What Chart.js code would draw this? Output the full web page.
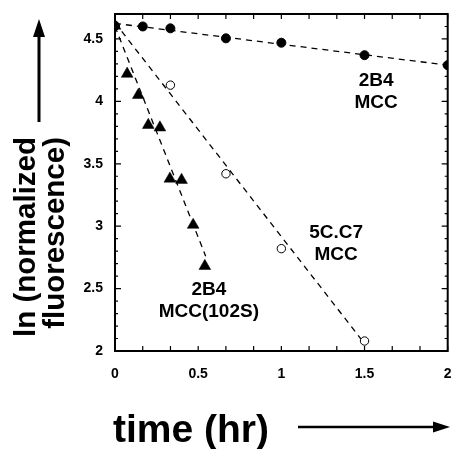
<!DOCTYPE html>
<html>
<head>
<meta charset="utf-8">
<script src="https://cdn.jsdelivr.net/npm/chart.js@4.4.1/dist/chart.umd.min.js"></script>
<style>
  html, body { margin: 0; padding: 0; background: #fff; }
  #wrap { width: 455px; height: 449px; }
</style>
</head>
<body>
<div id="wrap"><canvas id="chart" width="455" height="449"></canvas></div>
<script>
// filled circles, 2B4 MCC
const mccTimes = [0, 0.167, 0.333, 0.667, 1, 1.5, 2];
const mccValues = [4.605, 4.6, 4.585, 4.505, 4.47, 4.37, 4.29];

// open circles, 5C.C7 MCC
const c7Times = [0, 0.333, 0.667, 1, 1.5];
const c7Values = [4.605, 4.13, 3.42, 2.82, 2.08];

// triangles, 2B4 MCC(102S)
const s102Times = [0, 0.073, 0.14, 0.2, 0.27, 0.33, 0.4, 0.47, 0.54];
const s102Values = [4.605, 4.22, 4.05, 3.81, 3.79, 3.38, 3.37, 3.01, 2.68];

// dashed fit lines (start, end)
const mccFitTimes = [0, 2];
const mccFitValues = [4.625, 4.29];
const c7FitTimes = [0, 1.5];
const c7FitValues = [4.63, 2.06];
const s102FitTimes = [0, 0.545];
const s102FitValues = [4.6, 2.76];

const xTicks = [0, 0.5, 1, 1.5, 2];
const yTicks = [2, 2.5, 3, 3.5, 4, 4.5];

const curveLabels = [
  { text: ['2B4', 'MCC'], at: [1.57, 4.073] },
  { text: ['5C.C7', 'MCC'], at: [1.329, 2.857] },
  { text: ['2B4', 'MCC(102S)'], at: [0.564, 2.40] }
];

const FONT = '"Liberation Sans", Arial, Helvetica, sans-serif';

const pts = (xs, ys) => xs.map((x, i) => ({ x, y: ys[i] }));

const fitLine = (xs, ys) => ({
  type: 'line',
  data: pts(xs, ys),
  showLine: true,
  pointRadius: 0,
  borderColor: '#000',
  borderWidth: 1.3,
  borderDash: [6, 5],
  fill: false
});

const framePlugin = {
  id: 'frame',
  afterDraw(chart) {
    const { ctx, chartArea: a, scales: { x, y } } = chart;
    ctx.save();
    ctx.strokeStyle = '#000';
    ctx.fillStyle = '#000';

    // box
    ctx.lineWidth = 2;
    ctx.strokeRect(a.left, a.top, a.right - a.left, a.bottom - a.top);

    // inward ticks, every 10 min on x, every 0.1 on y
    ctx.lineWidth = 1.2;
    ctx.beginPath();
    for (let k = 0; k <= 12; k++) {
      const px = x.getPixelForValue(k / 6);
      ctx.moveTo(px, a.bottom); ctx.lineTo(px, a.bottom - 5);
      ctx.moveTo(px, a.top); ctx.lineTo(px, a.top + 5);
    }
    for (let k = 20; k <= 47; k++) {
      const py = y.getPixelForValue(k / 10);
      const len = k % 5 === 0 ? 6 : 3;
      ctx.moveTo(a.left, py); ctx.lineTo(a.left + len, py);
      ctx.moveTo(a.right, py); ctx.lineTo(a.right - len, py);
    }
    ctx.stroke();

    // curve labels
    ctx.font = 'bold 19px ' + FONT;
    ctx.textAlign = 'center';
    ctx.textBaseline = 'middle';
    curveLabels.forEach(l => {
      const cx = x.getPixelForValue(l.at[0]);
      const cy = y.getPixelForValue(l.at[1]);
      const n = l.text.length;
      l.text.forEach((t, i) => {
        ctx.fillText(t, cx, cy + (i - (n - 1) / 2) * 22);
      });
    });

    // x title + arrow
    ctx.textAlign = 'left';
    ctx.textBaseline = 'alphabetic';
    ctx.font = 'bold 39px ' + FONT;
    ctx.fillText('time (hr)', 113, 442);
    ctx.lineWidth = 2.5;
    ctx.beginPath();
    ctx.moveTo(298, 427); ctx.lineTo(436, 427);
    ctx.stroke();
    ctx.beginPath();
    ctx.moveTo(450, 427); ctx.lineTo(433, 421.5); ctx.lineTo(433, 432.5);
    ctx.closePath(); ctx.fill();

    // y title + arrow
    ctx.save();
    ctx.font = 'bold 29.5px ' + FONT;
    ctx.textAlign = 'right';
    ctx.translate(35, 137);
    ctx.rotate(-Math.PI / 2);
    ctx.fillText('ln (normalized', 0, 0);
    ctx.fillText('fluorescence)', 0, 29);
    ctx.restore();
    ctx.lineWidth = 3;
    ctx.beginPath();
    ctx.moveTo(39, 122); ctx.lineTo(39, 34);
    ctx.stroke();
    ctx.beginPath();
    ctx.moveTo(39, 19); ctx.lineTo(33, 37); ctx.lineTo(45, 37);
    ctx.closePath(); ctx.fill();

    ctx.restore();
  }
};

const tickFont = { family: FONT, size: 14, weight: 'bold' };

new Chart(document.getElementById('chart'), {
  type: 'scatter',
  data: {
    datasets: [
      { label: '2B4 MCC(102S)', data: pts(s102Times, s102Values), pointStyle: 'triangle',
        pointRadius: 6.8, backgroundColor: '#000', borderColor: '#000', borderWidth: 0.5 },
      { label: '2B4 MCC', data: pts(mccTimes, mccValues), pointStyle: 'circle',
        pointRadius: 4.5, backgroundColor: '#000', borderColor: '#000', borderWidth: 1 },
      { label: '5C.C7 MCC', data: pts(c7Times, c7Values), pointStyle: 'circle',
        pointRadius: 4.2, backgroundColor: '#fff', borderColor: '#000', borderWidth: 1 },
      fitLine(mccFitTimes, mccFitValues),
      fitLine(c7FitTimes, c7FitValues),
      fitLine(s102FitTimes, s102FitValues)
    ]
  },
  options: {
    responsive: false,
    animation: false,
    events: [],
    layout: { padding: { top: 14, right: 3, left: 0, bottom: 0 } },
    plugins: { legend: { display: false }, tooltip: { enabled: false } },
    scales: {
      x: {
        type: 'linear', min: 0, max: 2,
        grid: { display: false, drawTicks: false },
        border: { display: false },
        afterBuildTicks: s => { s.ticks = xTicks.map(v => ({ value: v })); },
        afterFit: s => { s.height = 98; s.paddingLeft = 0; s.paddingRight = 0; },
        ticks: { padding: 15, color: '#000', font: tickFont, autoSkip: false, maxRotation: 0,
          callback: v => String(v) }
      },
      y: {
        type: 'linear', min: 2, max: 4.7,
        grid: { display: false, drawTicks: false },
        border: { display: false },
        afterBuildTicks: s => { s.ticks = yTicks.map(v => ({ value: v })); },
        afterFit: s => { s.width = 115; s.paddingTop = 0; s.paddingBottom = 0; },
        ticks: { padding: 12, color: '#000', font: tickFont, autoSkip: false,
          callback: v => String(v) }
      }
    }
  },
  plugins: [framePlugin]
});
</script>
</body>
</html>
